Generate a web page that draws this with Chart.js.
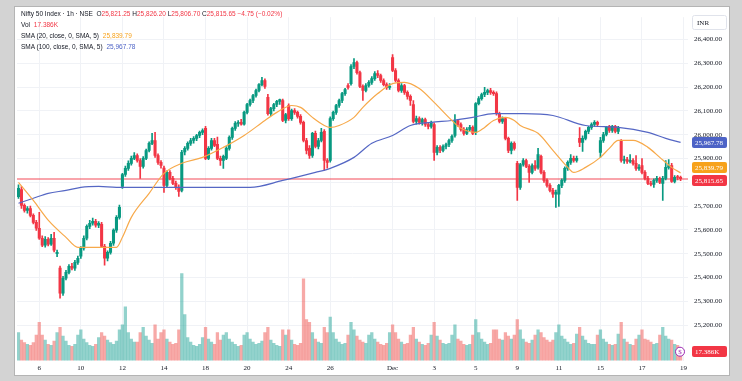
<!DOCTYPE html>
<html>
<head>
<meta charset="utf-8">
<title>Nifty 50 Index · 1h</title>
<script src="https://cdn.jsdelivr.net/npm/chart.js@4/dist/chart.umd.min.js"></script>
<style>
  html, body { margin: 0; padding: 0; }
  body { width: 742px; height: 381px; background: #d3d3d3; position: relative; overflow: hidden; }
  #frame { position: absolute; left: 14px; top: 6px; width: 714px; height: 368px; background: #fff; border: 1px solid #b4b4b4; }
  #chart { position: absolute; left: 0; top: 0; }
  #legend { position: absolute; left: 6px; top: 1px; font: 6.5px "Liberation Sans", Arial, sans-serif; color: #131722; line-height: 11px; white-space: nowrap; pointer-events: none; }
  #legend .v { margin-left: 2px; }
</style>
</head>
<body>
<div id="frame">
  <canvas id="chart" width="714" height="368"></canvas>
  <div id="legend"></div>
</div>
<script>
// trading days shown (hourly bars, 7 per session)
const days = ['Nov 4','Nov 6','Nov 7','Nov 10','Nov 11','Nov 12','Nov 13','Nov 14','Nov 17','Nov 18','Nov 19','Nov 20','Nov 21','Nov 24','Nov 25','Nov 26','Nov 27','Nov 28','Dec 1','Dec 2','Dec 3','Dec 4','Dec 5','Dec 8','Dec 9','Dec 10','Dec 11','Dec 12','Dec 15','Dec 16','Dec 17','Dec 18','Dec 19'];
const hours = ['09:15','10:15','11:15','12:15','13:15','14:15','15:15'];

const tickDays = ['Nov 6','Nov 10','Nov 12','Nov 14','Nov 18','Nov 20','Nov 24','Nov 26','Dec 1','Dec 3','Dec 5','Dec 9','Dec 11','Dec 15','Dec 17','Dec 19'];
const tickText = ['6','10','12','14','18','20','24','26','Dec','3','5','9','11','15','17','19'];
const priceTicks = [25200,25300,25400,25500,25600,25700,25800,25900,26000,26100,26200,26300,26400];

const opens = [
  25740,25770,25703,25682,25690,25661,25632,
  25607,25565,25536,25561,25540,25565,25500,
  25440,25334,25397,25422,25447,25439,25464,
  25490,25523,25565,25615,25628,25636,25620,
  25624,25531,25481,25506,25544,25599,25653,
  25783,25833,25859,25880,25901,25913,25892,
  25867,25901,25934,25964,25976,25913,25884,
  25860,25787,25842,25817,25796,25779,25766,
  25928,25943,25964,25976,25985,25997,26010,
  26027,25901,25943,25976,25960,25901,25892,
  25901,25943,25989,26027,26048,26052,26045,
  26094,26127,26144,26165,26186,26211,26228,
  26157,26089,26110,26127,26140,26144,26060,
  26123,26068,26102,26094,26077,26052,25976,
  25943,25913,26006,25951,25976,26014,25892,
  25892,26068,26094,26123,26144,26173,26207,
  26215,26287,26303,26261,26203,26186,26207,
  26220,26236,26257,26249,26228,26211,26199,
  26324,26270,26228,26186,26207,26178,26161,
  26127,26056,26068,26052,26064,26043,26035,
  26043,25926,25947,25934,25951,25959,25976,
  25997,26060,26043,26022,26006,26022,26031,
  26010,26131,26152,26169,26178,26186,26178,
  26173,26089,26056,26068,25985,25934,25964,
  25880,25779,25875,25892,25867,25842,25871,
  25863,25909,25842,25808,25787,25766,25750,
  25750,25787,25808,25859,25884,25901,25892,
  25985,25968,25985,26014,26031,26043,26052,
  25926,25976,26001,26035,26018,26035,26014,
  25976,25892,25896,25888,25892,25880,25859,
  25871,25842,25817,25796,25791,25808,25817,
  25796,25817,25863,25871,25804,25821,25821.25
];
const highs = [
  25790,25782,25710,25698,25700,25668,25640,
  25674,25575,25572,25568,25582,25590,25515,
  25448,25405,25430,25455,25460,25472,25490,
  25530,25575,25622,25640,25650,25645,25635,
  25632,25540,25512,25552,25605,25660,25705,
  25838,25868,25890,25910,25925,25920,25900,
  25908,25940,25970,26006,26010,25920,25892,
  25868,25848,25850,25825,25805,25790,25935,
  25950,25970,25985,25992,26002,26015,26025,
  26035,25950,25985,25985,25990,25910,25915,
  25950,25995,26032,26055,26060,26065,26100,
  26132,26150,26170,26192,26215,26241,26235,
  26170,26115,26132,26145,26150,26150,26090,
  26130,26108,26110,26100,26085,26058,25985,
  25955,26010,26015,25985,26027,26022,25900,
  26075,26100,26128,26150,26178,26195,26215,
  26295,26320,26310,26268,26210,26215,26228,
  26245,26265,26270,26255,26235,26218,26215,
  26337,26278,26235,26215,26212,26185,26168,
  26144,26078,26075,26070,26070,26050,26058,
  26050,25955,25955,25958,25965,25982,26000,
  26085,26065,26050,26030,26030,26040,26038,
  26135,26160,26175,26199,26192,26195,26185,
  26180,26095,26075,26072,25990,25970,25970,
  25888,25880,25900,25898,25875,25878,25892,
  25943,25915,25850,25815,25795,25775,25768,
  25792,25815,25865,25890,25917,25910,25910,
  26030,25995,26020,26035,26050,26060,26058,
  25989,26010,26035,26040,26040,26040,26035,
  25980,25910,25905,25917,25900,25913,25875,
  25900,25850,25825,25805,25815,25825,25822,
  25825,25892,25896,25880,25828,25830,25826.2
];
const lows = [
  25732,25690,25675,25670,25655,25625,25598,
  25560,25530,25528,25533,25535,25508,25488,
  25313,25325,25390,25415,25432,25430,25455,
  25480,25515,25558,25605,25620,25612,25610,
  25528,25452,25470,25498,25535,25590,25645,
  25775,25825,25850,25872,25895,25885,25817,
  25860,25895,25928,25958,25905,25875,25860,
  25758,25780,25810,25790,25770,25741,25760,
  25915,25935,25955,25965,25975,25988,26000,
  25895,25895,25935,25950,25895,25871,25859,
  25895,25935,25980,26018,26035,26040,26040,
  26088,26120,26135,26158,26180,26205,26195,
  26082,26080,26100,26118,26128,26055,26050,
  26060,26060,26085,26070,26045,25970,25920,
  25901,25905,25945,25940,25970,25850,25860,
  25885,26060,26085,26115,26135,26165,26192,
  26208,26278,26255,26198,26144,26180,26200,
  26212,26228,26240,26220,26205,26190,26190,
  26265,26222,26180,26178,26170,26150,26123,
  26050,26045,26045,26040,26035,26025,26028,
  25892,25915,25925,25928,25940,25950,25968,
  25990,26035,26015,25998,26000,26015,26000,
  26000,26125,26145,26160,26168,26170,26165,
  26082,26050,26048,25978,25925,25920,25935,
  25724,25770,25868,25862,25800,25835,25850,
  25855,25835,25800,25780,25760,25737,25695,
  25699,25778,25800,25850,25875,25885,25885,
  25950,25930,25978,26005,26022,26035,26035,
  25905,25968,25995,26010,26010,26008,26005,
  25885,25880,25880,25882,25872,25850,25850,
  25835,25810,25790,25785,25779,25800,25795,
  25724,25810,25855,25800,25798,25810,25806.7
];
const closes = [
  25775,25703,25682,25690,25661,25632,25607,
  25565,25536,25561,25540,25565,25515,25506,
  25334,25397,25422,25447,25439,25464,25481,
  25523,25565,25615,25628,25636,25620,25628,
  25531,25481,25506,25544,25599,25653,25695,
  25833,25859,25880,25901,25913,25892,25867,
  25901,25934,25964,25976,25913,25884,25871,
  25787,25842,25817,25796,25779,25762,25926,
  25943,25964,25976,25985,25997,26010,26018,
  25901,25943,25976,25955,25901,25892,25909,
  25943,25989,26027,26048,26052,26045,26094,
  26127,26144,26165,26186,26211,26228,26203,
  26089,26110,26127,26140,26148,26060,26085,
  26068,26102,26094,26077,26052,25976,25934,
  25913,26006,25951,25976,26010,25892,25884,
  26068,26094,26123,26144,26173,26190,26199,
  26287,26303,26261,26203,26186,26207,26220,
  26236,26257,26249,26228,26211,26199,26203,
  26270,26228,26186,26207,26178,26161,26144,
  26056,26068,26052,26064,26043,26035,26052,
  25926,25947,25934,25951,25959,25976,25993,
  26060,26043,26022,26006,26022,26031,26006,
  26131,26152,26169,26178,26186,26178,26173,
  26089,26056,26068,25985,25934,25964,25943,
  25779,25875,25892,25867,25842,25871,25859,
  25917,25842,25808,25787,25766,25750,25758,
  25787,25808,25859,25884,25901,25892,25901,
  25968,25985,26014,26031,26043,26052,26043,
  25976,26001,26031,26018,26035,26014,26027,
  25892,25896,25888,25892,25880,25859,25863,
  25842,25817,25796,25791,25808,25817,25800,
  25817,25863,25871,25804,25821,25820.4,25815.65
];
// volume in thousands
const volumes = [
  55,40,35,32,30,35,50,
  75,50,40,32,30,38,55,
  65,48,38,30,28,32,50,
  60,42,35,30,28,32,45,
  55,48,40,35,32,38,60,
  70,105,55,42,36,36,55,
  65,48,40,34,70,42,55,
  60,42,36,32,34,60,170,
  90,45,36,30,28,32,45,
  65,42,36,32,55,40,50,
  55,42,36,32,28,30,50,
  55,42,36,32,34,38,55,
  65,40,34,30,28,60,50,
  60,40,32,30,34,160,80,
  75,55,42,36,34,65,55,
  85,55,42,36,32,34,50,
  75,60,48,40,36,34,50,
  55,42,36,32,30,34,55,
  70,55,42,36,32,34,50,
  65,42,36,32,30,34,50,
  75,48,40,34,32,34,50,
  70,42,38,32,30,32,50,
  80,55,42,36,32,34,60,
  60,42,40,55,48,42,50,
  80,60,42,36,34,40,50,
  60,55,45,40,36,40,55,
  70,48,42,36,32,34,52,
  65,48,40,34,32,32,50,
  60,42,36,32,30,32,52,
  75,42,36,32,30,42,50,
  60,42,40,36,32,34,50,
  65,48,42,40,32,30,17.386
];

// moving averages: [bar index, value]
const sma20Pts = [
  [0,25800],[5,25724],[10,25641],[16,25569],[20,25527],[27,25527],[33,25527],[35,25569],[38,25653],
  [44,25754],[49,25838],[55,25880],[62,25905],[69,25947],[76,25997],[83,26060],[87,26094],[92,26123],
  [95,26115],[99,26073],[103,26039],[105,26031],[108,26039],[113,26073],[116,26115],[121,26173],[126,26215],
  [130,26220],[135,26194],[140,26136],[146,26060],[149,26027],[154,26010],[157,26031],[160,26060],[164,26073],
  [167,26060],[169,26039],[175,26006],[180,25934],[185,25863],[187,25842],[191,25863],[196,25905],[199,25943],
  [202,25976],[207,25976],[212,25947],[216,25905],[220,25863],[223,25839.79]
];
const sma100Pts = [
  [0,25712],[5,25733],[10,25754],[16,25766],[21,25779],[27,25783],[33,25779],[44,25779],[55,25779],
  [78,25779],[89,25808],[100,25842],[105,25859],[113,25905],[119,25964],[126,25997],[132,26039],[139,26052],
  [146,26060],[153,26073],[160,26089],[170,26089],[180,26081],[191,26039],[202,26031],[212,26010],[218,25985],
  [223,25967.78]
];

const UP = '#089981', DOWN = '#f23645';
const n = closes.length;
const labels = [];
days.forEach(d => hours.forEach(h => labels.push(d + ' ' + h)));
labels.length = n + 2;
const tickIdx = tickDays.map(d => days.indexOf(d) * hours.length);

const isUp = closes.map((c, i) => c >= opens[i]);
const bodies = closes.map((c, i) => [opens[i], c]);
const wicks = closes.map((c, i) => [lows[i], highs[i]]);
const toLine = pts => { const a = labels.map(() => null); pts.forEach(([i, v]) => a[i] = v); return a; };

const lastClose = closes[n - 1];
const prevClose = closes[n - 2];
const lastVol = volumes[n - 1];
const sma20Last = sma20Pts[sma20Pts.length - 1][1];
const sma100Last = sma100Pts[sma100Pts.length - 1][1];
const fmt = v => v.toLocaleString('en-US', { minimumFractionDigits: 2, maximumFractionDigits: 2 });

// legend text
const chg = lastClose - prevClose;
const red = s => '<span style="color:#f23645">' + s + '</span>';
document.getElementById('legend').innerHTML =
  '<div>Nifty 50 Index · 1h · NSE&nbsp; O' + red(fmt(opens[n - 1])) + ' H' + red(fmt(highs[n - 1])) +
  ' L' + red(fmt(lows[n - 1])) + ' C' + red(fmt(lastClose)) + ' ' +
  red('\u2212' + Math.abs(chg).toFixed(2) + ' (\u2212' + Math.abs(chg / prevClose * 100).toFixed(2) + '%)') + '</div>' +
  '<div>Vol <span class="v" style="color:#f23645">' + lastVol.toFixed(3) + 'K</span></div>' +
  '<div>SMA (20, close, 0, SMA, 5) <span class="v" style="color:#f7a21b">' + fmt(sma20Last) + '</span></div>' +
  '<div>SMA (100, close, 0, SMA, 5) <span class="v" style="color:#4d63c6">' + fmt(sma100Last) + '</span></div>';

const axisFont = { family: '"Liberation Serif", serif', size: 7 };

const overlay = {
  id: 'overlay',
  beforeDatasetsDraw(chart) {
    const { ctx, chartArea: a, scales } = chart;
    const py = Math.round(scales.y.getPixelForValue(lastClose));
    ctx.save();
    ctx.fillStyle = 'rgba(242,54,69,0.45)';
    ctx.fillRect(a.left, py - 1, a.right - a.left, 2);
    ctx.restore();
  },
  afterDraw(chart) {
    const { ctx, chartArea: a, scales } = chart;
    const h = 11;
    const tags = [
      { y: scales.y.getPixelForValue(sma100Last), text: fmt(sma100Last), bg: '#4d63c6' },
      { y: scales.y.getPixelForValue(sma20Last), text: fmt(sma20Last), bg: '#f7a21b' },
      { y: scales.y.getPixelForValue(lastClose), text: fmt(lastClose), bg: '#f23645' }
    ].sort((p, q) => p.y - q.y);
    // spread overlapping labels, moving the upper one more
    for (let k = 0; k < 8; k++) {
      for (let j = 1; j < tags.length; j++) {
        const d = tags[j].y - tags[j - 1].y;
        if (d < h + 2) { const s = h + 2 - d; tags[j - 1].y -= s * 0.75; tags[j].y += s * 0.25; }
      }
    }
    tags.push({ y: scales.vol.getPixelForValue(lastVol), text: lastVol.toFixed(3) + 'K', bg: '#f23645' });
    ctx.save();
    ctx.font = '7px "Liberation Serif", serif';
    ctx.textBaseline = 'middle';
    tags.forEach(t => {
      ctx.fillStyle = t.bg;
      ctx.beginPath(); ctx.roundRect(a.right + 4, Math.round(t.y - h / 2), 35, h, 2); ctx.fill();
      ctx.fillStyle = '#fff';
      ctx.fillText(t.text, a.right + 7, t.y + 0.5);
    });
    // currency box
    ctx.strokeStyle = '#e0e3eb';
    ctx.beginPath(); ctx.roundRect(a.right + 4.5, 8.5, 34, 14, 2); ctx.stroke();
    ctx.fillStyle = '#131722';
    ctx.fillText('INR', a.right + 9, 16);
    // event marker on the last volume bar
    const vy = scales.vol.getPixelForValue(lastVol);
    ctx.fillStyle = '#fff'; ctx.strokeStyle = '#9c27b0'; ctx.lineWidth = 1;
    ctx.beginPath(); ctx.arc(a.right - 8, vy, 4.5, 0, Math.PI * 2); ctx.fill(); ctx.stroke();
    ctx.fillStyle = '#9c27b0'; ctx.textAlign = 'center';
    ctx.fillText('$', a.right - 8, vy + 0.5);
    ctx.restore();
  }
};

new Chart(document.getElementById('chart'), {
  data: {
    labels: labels,
    datasets: [
      {
        type: 'line', label: 'SMA 20', data: toLine(sma20Pts), borderColor: '#f7a94a', borderWidth: 1.2,
        pointRadius: 0, spanGaps: true, cubicInterpolationMode: 'monotone', order: 1
      },
      {
        type: 'line', label: 'SMA 100', data: toLine(sma100Pts), borderColor: '#5567c4', borderWidth: 1.2,
        pointRadius: 0, spanGaps: true, cubicInterpolationMode: 'monotone', order: 1
      },
      {
        type: 'bar', label: 'body', data: bodies, grouped: false, barThickness: 2.4, minBarLength: 1,
        backgroundColor: isUp.map(u => u ? UP : DOWN), order: 2
      },
      {
        type: 'bar', label: 'wick', data: wicks, grouped: false, barThickness: 1,
        backgroundColor: isUp.map(u => u ? UP : DOWN), order: 3
      },
      {
        type: 'bar', label: 'Volume', data: volumes, yAxisID: 'vol', grouped: false, barThickness: 2.6,
        backgroundColor: isUp.map(u => u ? 'rgba(38,166,154,0.5)' : 'rgba(239,83,80,0.5)'), order: 5
      }
    ]
  },
  options: {
    responsive: false,
    animation: false,
    layout: { padding: { left: 2, top: 0, right: 0, bottom: 0 } },
    plugins: { legend: { display: false }, tooltip: { enabled: false } },
    scales: {
      x: {
        type: 'category',
        offset: true,
        afterBuildTicks: axis => { axis.ticks = tickIdx.map(v => ({ value: v })); },
        ticks: { autoSkip: false, maxRotation: 0, font: axisFont, color: '#131722', padding: 3,
          callback: (v, i) => tickText[i] },
        grid: { color: '#f0f2f6', drawTicks: false, offset: false },
        border: { display: false }
      },
      y: {
        position: 'right',
        min: 25051,
        max: 26494,
        afterBuildTicks: axis => { axis.ticks = priceTicks.map(v => ({ value: v })); },
        afterFit: axis => { axis.width = 41; },
        ticks: { font: axisFont, color: '#131722', padding: 6, callback: v => fmt(v) },
        grid: { color: '#f0f2f6', drawTicks: false },
        border: { display: false }
      },
      vol: {
        display: false,
        min: 0,
        max: Math.max(...volumes) * 3.95
      }
    }
  },
  plugins: [overlay]
});
</script>
</body>
</html>
